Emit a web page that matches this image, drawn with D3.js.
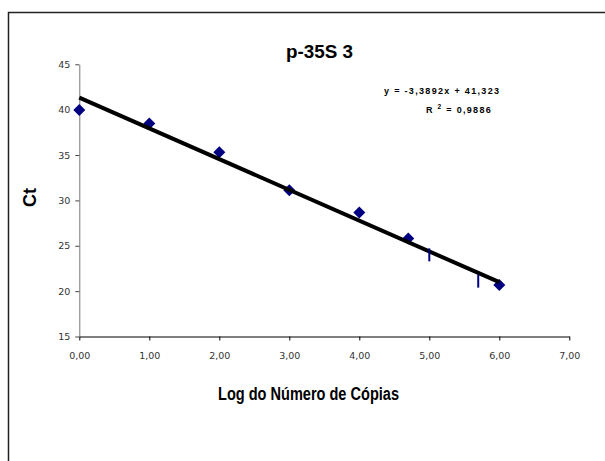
<!DOCTYPE html>
<html>
<head>
<meta charset="utf-8">
<script src="https://cdn.jsdelivr.net/npm/d3@7"></script>
<style>
  html, body { margin: 0; padding: 0; background: #fff; }
  svg { display: block; }
  .tick text { font-family: "DejaVu Sans", Verdana, sans-serif; font-size: 9.5px; fill: #333; }
  .narrow { font-family: "Liberation Sans", Arial, sans-serif; font-weight: bold; fill: #000; }
  .eq { font-family: "Liberation Sans", Arial, sans-serif; font-weight: bold; font-size: 9px; fill: #000; }
</style>
</head>
<body>
<svg id="chart" width="605" height="461"></svg>
<script>
// Standard curve: Ct against log10 of copy number
const logCopies = [0, 1, 2, 3, 4, 4.699, 6];
const ctValues  = [39.95, 38.48, 35.31, 31.11, 28.67, 25.8, 20.68];

// Stray dash markers near the fit line
const dashX = [5, 5.699];
const dashY = [24.0, 21.1];

// Linear fit shown on the chart
const slope = -3.3892;
const intercept = 41.323;
const fitRange = [0, 6];

const xTicks = [0, 1, 2, 3, 4, 5, 6, 7];
const yTicks = [15, 20, 25, 30, 35, 40, 45];

const titleText = "p-35S 3";
const xLabel = "Log do Número de Cópias";
const yLabel = "Ct";

const svg = d3.select("#chart");

// Outer chart frame (runs off the right and bottom edges)
svg.append("rect")
  .attr("x", 8.5).attr("y", 12.5)
  .attr("width", 620).attr("height", 470)
  .attr("fill", "none").attr("stroke", "#222").attr("stroke-width", 1.5);

const x = d3.scaleLinear().domain([0, 7]).range([79.3, 569.3]);
const y = d3.scaleLinear().domain([15, 45]).range([336.5, 64.3]);

const fmt = d => d.toFixed(2).replace(".", ",");

// X axis
const gx = svg.append("g")
  .attr("transform", `translate(0,${y(15)})`)
  .call(d3.axisBottom(x).tickValues(xTicks).tickFormat(fmt).tickSize(4).tickSizeOuter(0).tickPadding(12));
gx.select(".domain").attr("stroke", "#000").attr("stroke-width", 1.2);
gx.selectAll(".tick line").attr("stroke", "#000");

// Y axis
const gy = svg.append("g")
  .attr("transform", `translate(${x(0)},0)`)
  .call(d3.axisLeft(y).tickValues(yTicks).tickFormat(d3.format("d")).tickSize(4).tickSizeOuter(0).tickPadding(5));
gy.select(".domain").attr("stroke", "#777").attr("stroke-width", 1);
gy.selectAll(".tick line").attr("stroke", "#444");

// Data points as diamonds
const r = 6;
svg.append("g").selectAll("path")
  .data(logCopies.map((v, i) => [v, ctValues[i]]))
  .join("path")
  .attr("d", d => {
    const cx = x(d[0]), cy = y(d[1]);
    return `M${cx},${cy - r}L${cx + r},${cy}L${cx},${cy + r}L${cx - r},${cy}Z`;
  })
  .attr("fill", "#000080");

// Fitted line
svg.append("line")
  .attr("x1", x(fitRange[0])).attr("y1", y(intercept + slope * fitRange[0]))
  .attr("x2", x(fitRange[1])).attr("y2", y(intercept + slope * fitRange[1]))
  .attr("stroke", "#000").attr("stroke-width", 4);

// Dash markers
svg.append("g").selectAll("line")
  .data(dashX.map((v, i) => [v, dashY[i]]))
  .join("line")
  .attr("x1", d => x(d[0])).attr("x2", d => x(d[0]))
  .attr("y1", d => y(d[1]) - 6.5).attr("y2", d => y(d[1]) + 6.5)
  .attr("stroke", "#000080").attr("stroke-width", 2);

// Title (condensed by squeezing glyphs into a fixed length)
svg.append("text").attr("class", "narrow")
  .attr("x", 286).attr("y", 58)
  .attr("font-size", 17.5)
  .attr("textLength", 67).attr("lengthAdjust", "spacingAndGlyphs")
  .text(titleText);

// Axis titles
svg.append("text").attr("class", "narrow")
  .attr("x", 218).attr("y", 400)
  .attr("font-size", 17.5)
  .attr("textLength", 181).attr("lengthAdjust", "spacingAndGlyphs")
  .text(xLabel);

svg.append("text").attr("class", "narrow")
  .attr("transform", `translate(36,207) rotate(-90)`)
  .attr("font-size", 17.5)
  .attr("textLength", 19).attr("lengthAdjust", "spacingAndGlyphs")
  .text(yLabel);

// Regression equation
svg.append("text").attr("class", "eq")
  .attr("x", 384).attr("y", 94)
  .attr("textLength", 115).attr("lengthAdjust", "spacing")
  .text(`y = -3,3892x + 41,323`);

const r2 = svg.append("text").attr("class", "eq")
  .attr("x", 426).attr("y", 113)
  .attr("letter-spacing", 1.3);
r2.append("tspan").text("R ");
r2.append("tspan").attr("font-size", 6.5).attr("dy", -4).text("2");
r2.append("tspan").attr("dy", 4).text(" = 0,9886");
</script>
</body>
</html>
